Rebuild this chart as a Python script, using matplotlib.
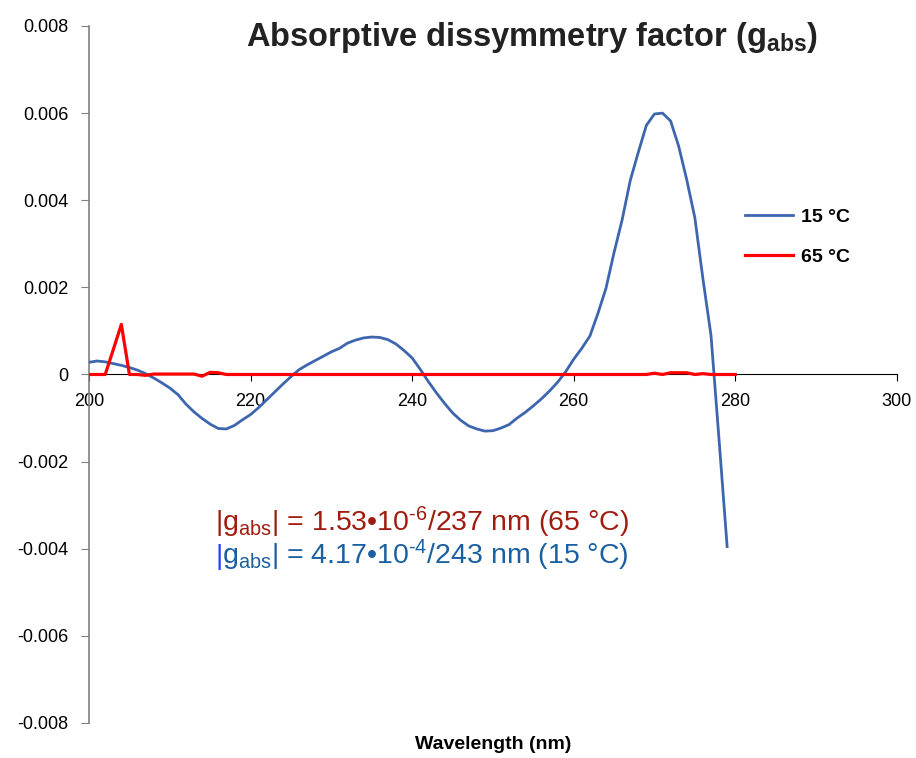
import matplotlib.pyplot as plt

plt.rcParams['font.family'] = ['Liberation Sans', 'DejaVu Sans']
plt.rcParams['mathtext.fontset'] = 'custom'
plt.rcParams['mathtext.rm'] = 'Liberation Sans'
plt.rcParams['mathtext.it'] = 'Liberation Sans'
plt.rcParams['mathtext.bf'] = 'Liberation Sans:bold'

# wavelength grid (nm)
wl_15 = list(range(200, 280))
wl_65 = list(range(200, 281))

# g_abs at 15 C
g_15 = [0.00028, 0.00031, 0.00029, 0.00025, 0.00021, 0.00016, 0.00010, 0.00002, -0.00008, -0.00019,
        -0.00031, -0.00046, -0.00068, -0.00086, -0.00101, -0.00114, -0.00124, -0.00125, -0.00117, -0.00104,
        -0.00092, -0.00076, -0.00058, -0.00040, -0.00022, -0.00005, 0.00011, 0.00022, 0.00032, 0.00042,
        0.00052, 0.00060, 0.00072, 0.00079, 0.00084, 0.00086, 0.00085, 0.00080, 0.00070, 0.00055,
        0.00038, 0.00012, -0.00016, -0.00042, -0.00066, -0.00088, -0.00105, -0.00118, -0.00125, -0.00130,
        -0.00129, -0.00123, -0.00115, -0.00100, -0.00087, -0.00072, -0.00056, -0.00038, -0.00018, 0.00006,
        0.00035, 0.00060, 0.00088, 0.00140, 0.00198, 0.00280, 0.00355, 0.00445, 0.00510, 0.00572,
        0.00598, 0.00600, 0.00582, 0.00524, 0.00447, 0.00360, 0.00220, 0.00090, -0.00150, -0.00395]

# g_abs at 65 C
g_65 = [0.0, 0.0, 0.0, 0.00057, 0.00115, 0.0, 0.0, -0.00002, 0.00001, 0.00001,
        0.00001, 0.00001, 0.00001, 0.00001, -0.00004, 0.00005, 0.00004, 0.0, 0.0, 0.0,
        0.0, 0.0, 0.0, 0.0, 0.0, 0.0, 0.0, 0.0, 0.0, 0.0,
        0.0, 0.0, 0.0, 0.0, 0.0, 0.0, 0.0, 0.0, 0.0, 0.0,
        0.0, 0.0, 0.0, 0.0, 0.0, 0.0, 0.0, 0.0, 0.0, 0.0,
        0.0, 0.0, 0.0, 0.0, 0.0, 0.0, 0.0, 0.0, 0.0, 0.0,
        0.0, 0.0, 0.0, 0.0, 0.0, 0.0, 0.0, 0.0, 0.0, 0.0,
        0.00003, 0.0, 0.00004, 0.00004, 0.00004, 0.0, 0.00002, 0.0, 0.0, 0.0,
        0.0]

xticks = [200, 220, 240, 260, 280, 300]
yticks = [-0.008, -0.006, -0.004, -0.002, 0, 0.002, 0.004, 0.006, 0.008]
ytick_labels = ['-0.008', '-0.006', '-0.004', '-0.002', '0', '0.002', '0.004', '0.006', '0.008']

fig = plt.figure(figsize=(9.16, 7.58), dpi=100)
ax = fig.add_axes([0.0972, 0.0462, 0.8818, 0.9195])

ax.plot(wl_15, g_15, color='#3D66AF', lw=2.0, label='15 \u00b0C', zorder=3)
ax.plot(wl_65, g_65, color='#FF0000', lw=2.3, label='65 \u00b0C', zorder=4)

ax.set_xlim(200, 300)
ax.set_ylim(-0.008, 0.008)
ax.set_xticks(xticks)
ax.set_yticks(yticks)
ax.set_yticklabels(ytick_labels)

ax.spines['top'].set_visible(False)
ax.spines['right'].set_visible(False)
ax.spines['bottom'].set_position(('data', 0))
ax.spines['bottom'].set_color('black')
ax.spines['left'].set_color('#808080')
ax.spines['left'].set_linewidth(1.2)
ax.tick_params(axis='y', direction='out', length=6, color='#808080', labelsize=13, pad=9)
ax.tick_params(axis='x', direction='out', length=5, color='black', labelsize=13, pad=8)

ax.set_xlabel('Wavelength (nm)', fontsize=14, fontweight='bold', labelpad=0)
ax.xaxis.set_label_coords(0.5, -0.018)

fig.text(0.581, 0.951, r'Absorptive dissymmetry factor (g$_\mathbf{abs}$)',
         fontsize=23.5, fontweight='bold', ha='center', va='center', color='#222222')

leg = ax.legend(loc='upper left', bbox_to_anchor=(0.79, 0.764), frameon=False,
                prop={'weight': 'bold', 'size': 14}, handlelength=2.5,
                labelspacing=1.15, handletextpad=0.4)

line1 = '|g$_{abs}$| = 1.53\u202210$^{\u20106}$/237 nm (65 °C)'
line2 = 'g$_{abs}$| = 4.17\u202210$^{\u20104}$/243 nm (15 °C)'
ax.text(0.156, 0.275, line1, transform=ax.transAxes, fontsize=20.5,
        color='#A01C10', va='baseline')
# second line: leading bar in a brighter blue, rest placed right after it
bar = ax.text(0.156, 0.228, '|', transform=ax.transAxes, fontsize=20.5,
              color='#2040FF', va='baseline')
ax.annotate(line2, xy=(1, 0.228), xycoords=(bar, 'axes fraction'),
            fontsize=20.5, color='#1A5FA0', va='baseline', ha='left')

fig.savefig('out.png', dpi=100)
